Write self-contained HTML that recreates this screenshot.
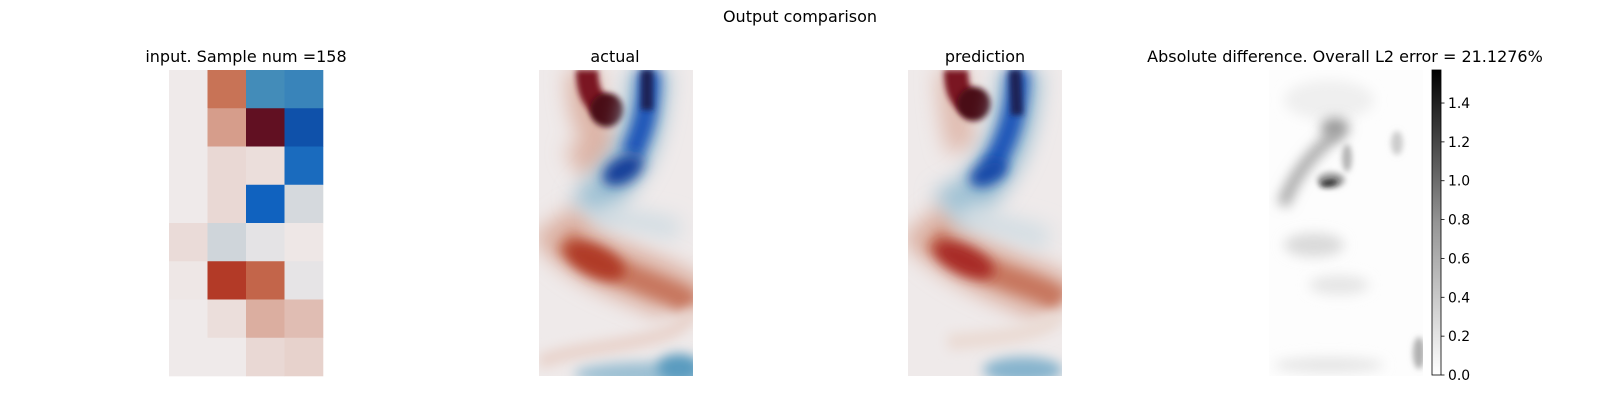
<!DOCTYPE html>
<html><head><meta charset="utf-8"><style>
html,body{margin:0;padding:0;background:#fff;}
svg{display:block;font-family:"DejaVu Sans","Liberation Sans",sans-serif;}
</style></head><body>
<svg id="fig" width="1600" height="400" viewBox="0 0 1600 400" xmlns="http://www.w3.org/2000/svg">
<defs>
<filter id="b3" filterUnits="userSpaceOnUse" x="-100" y="-100" width="400" height="500"><feGaussianBlur stdDeviation="3"/></filter>
<filter id="b6" filterUnits="userSpaceOnUse" x="-100" y="-100" width="400" height="500"><feGaussianBlur stdDeviation="6"/></filter>
<filter id="b10" filterUnits="userSpaceOnUse" x="-100" y="-100" width="400" height="500"><feGaussianBlur stdDeviation="10"/></filter>
<clipPath id="clipA"><rect x="0" y="0" width="154" height="306"/></clipPath>
<linearGradient id="greys" x1="0" y1="1" x2="0" y2="0"><stop offset="0" stop-color="#ffffff"/><stop offset="0.5" stop-color="#959595"/><stop offset="1" stop-color="#000000"/></linearGradient>
</defs>
<text x="800" y="22" text-anchor="middle" font-size="16" fill="#000">Output comparison</text>
<text x="246" y="62" text-anchor="middle" font-size="16" fill="#000">input. Sample num =158</text>
<text x="615" y="62" text-anchor="middle" font-size="16" fill="#000">actual</text>
<text x="985" y="62" text-anchor="middle" font-size="16" fill="#000">prediction</text>
<text x="1345" y="62" text-anchor="middle" font-size="16" fill="#000">Absolute difference. Overall L2 error = 21.1276%</text>

<g id="inputPanel" transform="translate(169,70)"></g>

<g transform="translate(539,70)">
<g clip-path="url(#clipA)">
<rect x="0" y="0" width="154" height="306" fill="#efeaea"/>
<path d="M15,150 C40,185 70,195 110,212 S150,232 150,240" stroke="#dcb0a2" stroke-width="55" fill="none" filter="url(#b10)"/>
<path d="M25,170 C45,188 75,200 110,214 S145,228 150,236" stroke="#c7775f" stroke-width="24" fill="none" filter="url(#b6)"/>
<ellipse cx="56" cy="191" rx="32" ry="15" fill="#b03a28" transform="rotate(25 56 191)" filter="url(#b6)"/>
<path d="M150,242 C150,262 110,270 60,278 S10,290 0,292" stroke="#e8d2ca" stroke-width="14" fill="none" filter="url(#b6)"/>
<path d="M45,0 C45,20 45,45 58,62 S50,85 35,95" stroke="#ddb4a6" stroke-width="34" fill="none" filter="url(#b10)"/>
<path d="M48,0 C48,18 52,30 66,40" stroke="#7a1424" stroke-width="22" fill="none" filter="url(#b3)"/>
<circle cx="68" cy="40" r="17" fill="#4a0818" filter="url(#b3)"/>
<path d="M110,0 C108,45 100,80 80,105 S55,130 50,140" stroke="#9cc0d3" stroke-width="40" fill="none" filter="url(#b10)"/>
<path d="M110,0 C110,40 104,60 92,85" stroke="#1a55b8" stroke-width="22" fill="none" filter="url(#b6)"/>
<path d="M108,0 L108,40" stroke="#1a2456" stroke-width="12" fill="none" filter="url(#b3)"/>
<ellipse cx="84" cy="100" rx="22" ry="13" fill="#173f9a" transform="rotate(-30 84 100)" filter="url(#b6)"/>
<path d="M60,142 C80,150 110,152 140,160" stroke="#cfdbe2" stroke-width="20" fill="none" filter="url(#b10)"/>
<ellipse cx="110" cy="304" rx="75" ry="12" fill="#9cc0d3" filter="url(#b6)"/>
<ellipse cx="140" cy="298" rx="22" ry="14" fill="#5a9bbf" filter="url(#b6)"/>
</g></g>

<g transform="translate(908,70)">
<g clip-path="url(#clipA)">
<rect x="0" y="0" width="154" height="306" fill="#efeaea"/>
<path d="M14,150 C40,180 70,195 110,212 S150,232 152,236" stroke="#dcb0a2" stroke-width="55" fill="none" filter="url(#b10)"/>
<path d="M25,168 C45,185 75,200 110,212 S145,226 152,232" stroke="#c7775f" stroke-width="24" fill="none" filter="url(#b6)"/>
<ellipse cx="56" cy="190" rx="32" ry="14" fill="#a82a25" transform="rotate(25 56 190)" filter="url(#b6)"/>
<path d="M150,245 C140,262 100,268 40,272" stroke="#eadad3" stroke-width="16" fill="none" filter="url(#b6)"/>
<path d="M45,0 C45,25 48,55 55,80" stroke="#e0bcb0" stroke-width="32" fill="none" filter="url(#b10)"/>
<path d="M48,0 C48,18 52,30 66,36" stroke="#7a1424" stroke-width="24" fill="none" filter="url(#b3)"/>
<circle cx="66" cy="34" r="17" fill="#4a0818" filter="url(#b3)"/>
<path d="M112,0 C110,50 100,80 80,108 S50,130 40,140" stroke="#9cc0d3" stroke-width="42" fill="none" filter="url(#b10)"/>
<path d="M110,0 C110,40 100,70 82,100" stroke="#1a55b8" stroke-width="22" fill="none" filter="url(#b6)"/>
<path d="M107,0 L109,45" stroke="#1a2456" stroke-width="12" fill="none" filter="url(#b3)"/>
<ellipse cx="80" cy="103" rx="20" ry="12" fill="#1848a8" transform="rotate(-30 80 103)" filter="url(#b6)"/>
<path d="M55,142 C80,155 110,160 140,170" stroke="#d2dde3" stroke-width="24" fill="none" filter="url(#b10)"/>
<ellipse cx="115" cy="300" rx="40" ry="13" fill="#86b4cd" filter="url(#b6)"/>
</g></g>

<g transform="translate(1269,70)">
<g clip-path="url(#clipA)">
<rect x="0" y="0" width="154" height="306" fill="#fdfdfd"/>
<ellipse cx="60" cy="30" rx="45" ry="20" fill="#efefef" filter="url(#b6)"/>
<path d="M14,135 C25,105 45,80 70,62" stroke="#a6a6a6" stroke-width="12" fill="none" filter="url(#b6)"/>
<ellipse cx="66" cy="58" rx="14" ry="10" fill="#9a9a9a" filter="url(#b6)"/>
<ellipse cx="62" cy="110" rx="14" ry="8" fill="#a5a5a5" filter="url(#b3)"/>
<ellipse cx="60" cy="113" rx="9" ry="3" fill="#1a1a1a" transform="rotate(-10 60 113)" filter="url(#b3)"/>
<ellipse cx="78" cy="88" rx="5" ry="14" fill="#b4b4b4" filter="url(#b3)"/>
<ellipse cx="128" cy="73" rx="6" ry="12" fill="#cccccc" filter="url(#b3)"/>
<ellipse cx="45" cy="175" rx="30" ry="12" fill="#dadada" filter="url(#b6)"/>
<ellipse cx="70" cy="215" rx="30" ry="10" fill="#e6e6e6" filter="url(#b6)"/>
<ellipse cx="150" cy="283" rx="6" ry="16" fill="#b0b0b0" filter="url(#b3)"/>
<ellipse cx="60" cy="295" rx="55" ry="8" fill="#e6e6e6" filter="url(#b6)"/>
</g></g>

<g id="colorbar"></g>
</svg>
<script>
var inputValues = [
 [0.00, 0.45, -0.45, -0.50],
 [0.00, 0.27, 0.90, -0.78],
 [0.00, 0.06, 0.04, -0.65],
 [0.00, 0.06, -0.70, -0.12],
 [0.05, -0.15, -0.05, 0.01],
 [0.01, 0.65, 0.50, -0.04],
 [0.00, 0.04, 0.20, 0.15],
 [0.00, 0.00, 0.06, 0.08]
];
var cbTicks = [0.0, 0.2, 0.4, 0.6, 0.8, 1.0, 1.2, 1.4];
var cbTickLabels = ["0.0","0.2","0.4","0.6","0.8","1.0","1.2","1.4"];
var cbMax = 1.57;

var NS = "http://www.w3.org/2000/svg";
var stops = [[-1,[24,30,90]],[-0.72,[12,95,192]],[-0.45,[67,140,185]],[-0.15,[207,213,218]],[0,[239,234,234]],[0.2,[219,174,160]],[0.45,[200,115,86]],[0.65,[179,58,39]],[0.9,[97,16,34]],[1,[60,9,18]]];
function cmap(v){
  v=Math.max(-1,Math.min(1,v));
  for(var i=0;i<stops.length-1;i++){
    var a=stops[i],b=stops[i+1];
    if(v>=a[0]&&v<=b[0]){
      var t=(v-a[0])/(b[0]-a[0]);
      var c=a[1].map(function(x,k){return Math.round(x+(b[1][k]-x)*t);});
      return "rgb("+c.join(",")+")";
    }
  }
  return "rgb(239,234,234)";
}
var W=154,H=306;
var nRows=inputValues.length,nCols=inputValues[0].length;
function xCell(c){return c*W/nCols;}
function yCell(r){return r*H/nRows;}
var inp=document.getElementById("inputPanel");
for(var r=0;r<nRows;r++){
  for(var c=0;c<nCols;c++){
    var rect=document.createElementNS(NS,"rect");
    rect.setAttribute("x",xCell(c));
    rect.setAttribute("y",yCell(r));
    rect.setAttribute("width",xCell(c+1)-xCell(c)+0.3);
    rect.setAttribute("height",yCell(r+1)-yCell(r)+0.3);
    rect.setAttribute("fill",cmap(inputValues[r][c]));
    
    
    inp.appendChild(rect);
  }
}
var cb=document.getElementById("colorbar");
var cbX=1432,cbW=9,cbTop=70,cbBot=375;
function yCb(v){return cbBot-(v/cbMax)*(cbBot-cbTop);}
var bar=document.createElementNS(NS,"rect");
bar.setAttribute("x",cbX);bar.setAttribute("y",cbTop);bar.setAttribute("width",cbW);bar.setAttribute("height",cbBot-cbTop);
bar.setAttribute("fill","url(#greys)");bar.setAttribute("stroke","#000");bar.setAttribute("stroke-width","0.8");


cb.appendChild(bar);
for(var i=0;i<cbTicks.length;i++){
  var y=yCb(cbTicks[i]);
  var tk=document.createElementNS(NS,"line");
  tk.setAttribute("x1",cbX+cbW);tk.setAttribute("x2",cbX+cbW+3.5);tk.setAttribute("y1",y);tk.setAttribute("y2",y);
  tk.setAttribute("stroke","#000");tk.setAttribute("stroke-width","0.8");
  
  
  cb.appendChild(tk);
  var tx=document.createElementNS(NS,"text");
  tx.setAttribute("x",cbX+cbW+7);tx.setAttribute("y",y+5);tx.setAttribute("font-size","13.9");
  tx.textContent=cbTickLabels[i];
  
  
  cb.appendChild(tx);
}
</script>
</body></html>
